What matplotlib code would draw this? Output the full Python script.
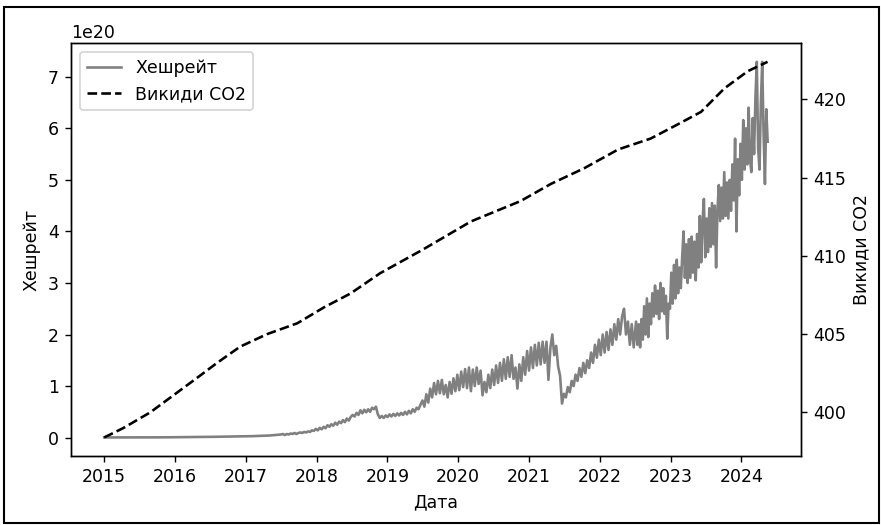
import matplotlib
matplotlib.use("Agg")
import matplotlib.pyplot as plt
import matplotlib.dates as mdates
from matplotlib.patches import Rectangle
import pandas as pd
import numpy as np

# ---- Hashrate (units of 1e20) ----
# monthly, 2015-01 .. 2017-06
hash_early_values = [
    0.003, 0.003, 0.0035, 0.0035, 0.004, 0.004, 0.0045, 0.005, 0.005, 0.0045, 0.005, 0.006,
    0.007, 0.008, 0.009, 0.011, 0.013, 0.014, 0.015, 0.016, 0.018, 0.019, 0.020, 0.022,
    0.026, 0.028, 0.032, 0.035, 0.040, 0.050,
]
# every 10 days, 2017-07-01 .. 2022-06-30
hash_mid_values = [
    0.06, 0.07, 0.05, 0.07, 0.06, 0.08, 0.07, 0.09, 0.07, 0.09, 0.10, 0.09, 0.11, 0.10, 0.12, 0.11, 0.14, 0.13,
    0.17, 0.14, 0.19, 0.16, 0.21, 0.18, 0.24, 0.21, 0.26, 0.23, 0.29, 0.25, 0.31, 0.28, 0.34, 0.30, 0.37, 0.33, 0.40,
    0.44, 0.41, 0.48, 0.44, 0.53, 0.47, 0.54, 0.49, 0.55, 0.50, 0.58, 0.55, 0.60, 0.45, 0.38, 0.42, 0.38, 0.43,
    0.40, 0.45, 0.41, 0.46, 0.42, 0.47, 0.43, 0.48, 0.44, 0.50, 0.45, 0.52, 0.47, 0.55, 0.50, 0.58, 0.55, 0.64,
    0.72, 0.60, 0.84, 0.68, 0.95, 0.78, 1.06, 0.84, 1.10, 0.86, 1.12, 0.84, 1.02, 0.78, 1.08, 0.85, 1.15, 0.90,
    1.22, 0.92, 1.28, 0.98, 1.33, 0.96, 1.36, 0.90, 1.32, 1.00, 1.36, 1.04, 1.30, 0.82, 1.08, 0.88, 1.22, 0.96,
    1.32, 1.02, 1.40, 1.06, 1.45, 1.10, 1.52, 1.14, 1.56, 1.18, 1.60, 1.14, 1.36, 0.95, 1.42, 1.10, 1.56, 1.22,
    1.68, 1.30, 1.75, 1.35, 1.80, 1.40, 1.84, 1.42, 1.86, 1.45, 1.86, 1.12, 1.74, 2.00, 1.60, 1.78, 1.38, 1.20,
    0.66, 0.85, 0.78, 0.98, 0.88, 1.10, 1.00, 1.22, 1.10, 1.35, 1.18, 1.45, 1.25, 1.50, 1.35, 1.65, 1.45, 1.80,
    1.55, 1.90, 1.60, 2.00, 1.65, 2.05, 1.70, 2.10, 1.80, 2.20, 1.90, 2.30, 2.00, 2.35, 2.50, 2.00, 2.25, 1.80,
    2.20, 1.75,
]
# weekly, 2022-07-07 .. 2024-05-16
hash_late_values = [
    2.25, 1.80, 2.20, 1.75, 2.30, 1.90, 2.55, 2.00, 2.70, 1.95, 2.60, 2.20, 2.80, 2.35, 2.95, 2.40, 2.85, 2.30,
    3.00, 2.45, 2.90, 2.40, 2.75, 1.92, 2.60, 2.50, 3.20, 2.60, 3.35, 2.70, 3.45, 2.80, 3.30, 2.90, 3.50, 4.00,
    3.10, 3.75, 3.00, 3.85, 3.10, 3.90, 3.20, 3.80, 3.05, 3.95, 3.30, 4.30, 3.40, 4.20, 4.63, 3.50, 4.25, 3.60,
    4.45, 3.70, 4.55, 3.75, 4.50, 3.30, 4.40, 4.90, 4.20, 4.85, 4.25, 5.15, 4.30, 4.95, 4.25, 5.00, 4.40, 5.30,
    4.60, 5.80, 4.00, 5.40, 4.70, 5.70, 5.00, 6.16, 5.20, 6.00, 5.30, 6.40, 5.40, 5.15, 6.20, 5.50, 6.60, 7.29,
    5.60, 5.20, 6.50, 7.29, 5.90, 4.92, 6.37, 5.74,
]

# ---- CO2 emissions (ppm), read at decimal years ----
co2_years = [2015.00, 2015.27, 2015.65, 2015.98, 2016.31, 2016.59, 2016.92, 2017.30, 2017.73,
             2018.10, 2018.48, 2018.90, 2019.50, 2020.18, 2020.88, 2021.31, 2021.78, 2022.26,
             2022.72, 2023.10, 2023.43, 2023.76, 2024.09, 2024.37]
co2_values = [398.4, 399.0, 400.0, 401.1, 402.2, 403.15, 404.2, 405.0, 405.7,
              406.7, 407.6, 408.9, 410.4, 412.2, 413.5, 414.6, 415.6, 416.8,
              417.5, 418.4, 419.2, 420.7, 421.8, 422.4]


def year_to_date(y):
    return pd.Timestamp("2015-01-01") + pd.to_timedelta((y - 2015.0) * 365.25, unit="D")


d_early = pd.date_range("2015-01-01", periods=len(hash_early_values), freq="MS")
d_mid = pd.date_range("2017-07-01", periods=len(hash_mid_values), freq="10D")
d_late = pd.date_range("2022-07-07", periods=len(hash_late_values), freq="7D")
hash_dates = d_early.append(d_mid).append(d_late)
hash_values = np.array(hash_early_values + hash_mid_values + hash_late_values) * 1e20

co2_dates = [year_to_date(y) for y in co2_years]

DPI = 125
fig = plt.figure(figsize=(881 / DPI, 525 / DPI), dpi=DPI)
ax1 = fig.add_axes([0.0806, 0.131, 0.8284, 0.787])
l1, = ax1.plot(hash_dates, hash_values, color="gray", lw=1.5, label="Хешрейт")
ax1.set_xlabel("Дата")
ax1.set_ylabel("Хешрейт")

ax2 = ax1.twinx()
l2, = ax2.plot(co2_dates, co2_values, color="black", ls="--", lw=1.5, label="Викиди CO2")
ax2.set_ylabel("Викиди CO2")

ax1.xaxis.set_major_locator(mdates.YearLocator())
ax1.xaxis.set_major_formatter(mdates.DateFormatter("%Y"))

ax1.legend([l1, l2], ["Хешрейт", "Викиди CO2"], loc="upper left")

fig.patches.append(Rectangle((4 / 881, 2 / 525), 875 / 881, 516 / 525, transform=fig.transFigure,
                             fill=False, edgecolor="black", lw=1.2))

fig.savefig("out.png", dpi=DPI)
